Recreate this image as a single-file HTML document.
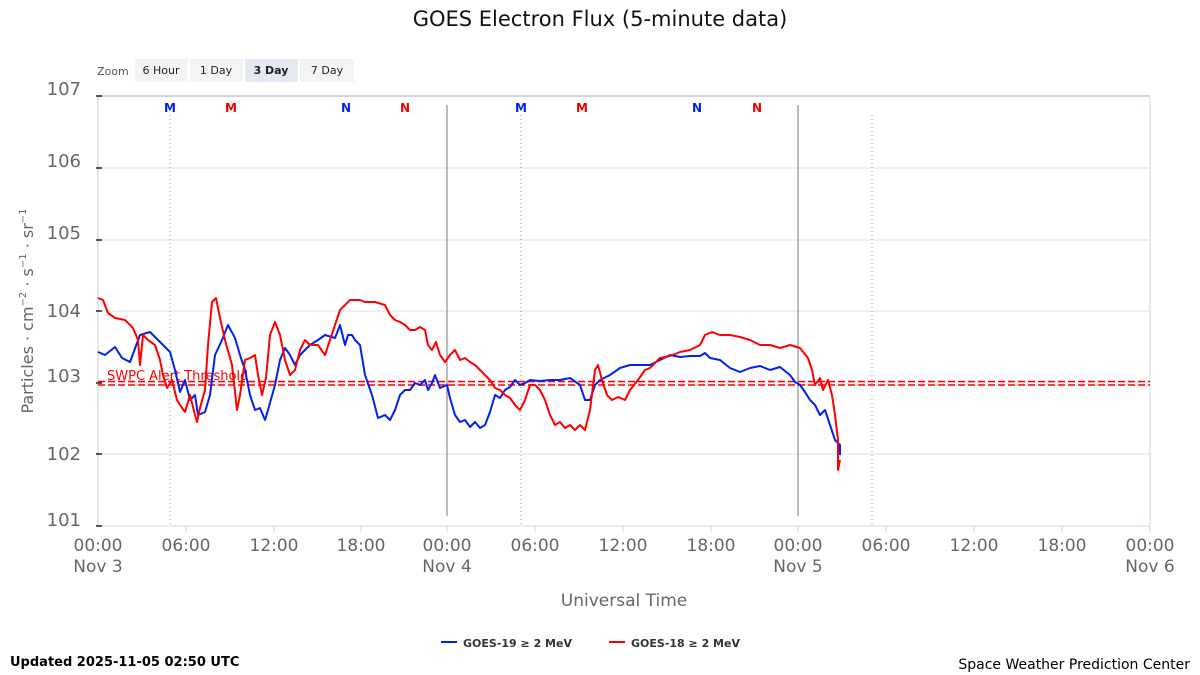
<!DOCTYPE html>
<html><head><meta charset="utf-8"><style>
body{margin:0;background:#fff;}
svg{display:block;font-family:"DejaVu Sans","Liberation Sans",sans-serif;}
</style></head><body>
<svg width="1200" height="675" viewBox="0 0 1200 675">
<text x="600" y="26" text-anchor="middle" font-size="21" fill="#111">GOES Electron Flux (5-minute data)</text>
<text x="97" y="75" font-size="11" fill="#555">Zoom</text>
<rect x="135" y="59" width="53" height="23" fill="#f4f4f4"/><text x="161" y="74" text-anchor="middle" font-size="11" fill="#222">6 Hour</text>
<rect x="190" y="59" width="53" height="23" fill="#f4f4f4"/><text x="216" y="74" text-anchor="middle" font-size="11" fill="#222">1 Day</text>
<rect x="245" y="59" width="53" height="23" fill="#e6e9f2"/><text x="271" y="74" text-anchor="middle" font-size="11" font-weight="bold" fill="#222">3 Day</text>
<rect x="300" y="59" width="54" height="23" fill="#f4f4f4"/><text x="327" y="74" text-anchor="middle" font-size="11" fill="#222">7 Day</text>
<g stroke="#e2e2e2" stroke-width="1">
<line x1="98" y1="168" x2="1150" y2="168"/><line x1="98" y1="240" x2="1150" y2="240"/><line x1="98" y1="311" x2="1150" y2="311"/><line x1="98" y1="383" x2="1150" y2="383"/><line x1="98" y1="454" x2="1150" y2="454"/>
</g>
<rect x="98" y="96" width="1052" height="430" fill="none" stroke="#ccd6eb"/>
<line x1="98" y1="96" x2="1150" y2="96" stroke="#ccd6eb" stroke-width="2"/>
<g stroke="#999" stroke-dasharray="1,3"><line x1="170" y1="115" x2="170" y2="526"/><line x1="521" y1="115" x2="521" y2="526"/><line x1="872" y1="115" x2="872" y2="526"/></g>
<g stroke="#777"><line x1="447" y1="105" x2="447" y2="516"/><line x1="798" y1="105" x2="798" y2="516"/></g>
<line x1="98" y1="96" x2="98" y2="526" stroke="#ccc"/>
<g stroke="#222" stroke-width="1.5"><line x1="96" y1="96" x2="102" y2="96"/><line x1="96" y1="168" x2="102" y2="168"/><line x1="96" y1="240" x2="102" y2="240"/><line x1="96" y1="311" x2="102" y2="311"/><line x1="96" y1="383" x2="102" y2="383"/><line x1="96" y1="454" x2="102" y2="454"/><line x1="96" y1="526" x2="102" y2="526"/></g>
<g stroke="#ccd6eb"><line x1="186" y1="526" x2="186" y2="532"/><line x1="274" y1="526" x2="274" y2="532"/><line x1="361" y1="526" x2="361" y2="532"/><line x1="447" y1="526" x2="447" y2="532"/><line x1="535" y1="526" x2="535" y2="532"/><line x1="623" y1="526" x2="623" y2="532"/><line x1="711" y1="526" x2="711" y2="532"/><line x1="798" y1="526" x2="798" y2="532"/><line x1="886" y1="526" x2="886" y2="532"/><line x1="974" y1="526" x2="974" y2="532"/><line x1="1062" y1="526" x2="1062" y2="532"/><line x1="1150" y1="526" x2="1150" y2="532"/></g>
<g font-size="18" fill="#666" text-anchor="end">
<text x="81" y="95">107</text><text x="81" y="167">106</text><text x="81" y="239">105</text><text x="81" y="317">104</text><text x="81" y="382">103</text><text x="81" y="460">102</text><text x="81" y="526">101</text>
</g>
<text transform="translate(33,311) rotate(-90)" text-anchor="middle" font-size="16" fill="#666">Particles · cm<tspan font-size="10" dy="-7">−2</tspan><tspan dy="7"> · s</tspan><tspan font-size="10" dy="-7">−1</tspan><tspan dy="7"> · sr</tspan><tspan font-size="10" dy="-7">−1</tspan></text>
<g font-size="17" fill="#666" text-anchor="middle">
<text x="98" y="551">00:00</text><text x="98" y="572">Nov 3</text>
<text x="186" y="551">06:00</text><text x="274" y="551">12:00</text><text x="361" y="551">18:00</text>
<text x="447" y="551">00:00</text><text x="447" y="572">Nov 4</text>
<text x="535" y="551">06:00</text><text x="623" y="551">12:00</text><text x="711" y="551">18:00</text>
<text x="798" y="551">00:00</text><text x="798" y="572">Nov 5</text>
<text x="886" y="551">06:00</text><text x="974" y="551">12:00</text><text x="1062" y="551">18:00</text>
<text x="1150" y="551">00:00</text><text x="1150" y="572">Nov 6</text>
<text x="624" y="606">Universal Time</text>
</g>
<g font-size="12" font-weight="bold" text-anchor="middle">
<text x="170" y="112" fill="#0022ee">M</text><text x="231" y="112" fill="#ee0000">M</text><text x="346" y="112" fill="#0022ee">N</text><text x="405" y="112" fill="#ee0000">N</text>
<text x="521" y="112" fill="#0022ee">M</text><text x="582" y="112" fill="#ee0000">M</text><text x="697" y="112" fill="#0022ee">N</text><text x="757" y="112" fill="#ee0000">N</text>
</g>
<g stroke="#ff0000" stroke-width="1.5" stroke-dasharray="7,3"><line x1="98" y1="381.5" x2="1150" y2="381.5"/><line x1="98" y1="385" x2="1150" y2="385"/></g>
<text x="107" y="380" font-size="13" fill="#ff0000">SWPC Alert Threshold</text>
<polyline fill="none" stroke="#0022ee" stroke-width="2" stroke-linejoin="round" points="98,352 105,355 115,347 122,358 130,362 140,335 150,332 160,342 170,352 175,370 180,392 185,380 190,400 195,395 198,415 205,412 210,395 215,355 222,340 228,325 235,338 240,355 245,370 250,395 255,410 260,408 265,420 268,410 275,385 280,360 285,348 290,355 295,365 300,355 310,345 318,340 325,335 335,338 340,325 345,345 348,335 352,335 355,340 360,345 365,375 372,395 378,418 385,415 390,420 395,410 400,395 405,390 410,390 415,383 420,385 425,380 428,390 432,383 435,375 440,388 447,385 450,398 455,415 460,422 465,420 470,427 475,422 480,428 485,425 490,412 495,395 500,398 505,390 510,387 515,380 520,385 525,383 530,380 540,381 550,380 560,380 570,378 580,385 585,400 590,400 595,385 600,380 610,375 620,368 630,365 640,365 650,365 660,360 670,355 680,357 690,356 700,356 705,353 710,358 720,360 730,368 740,372 750,368 760,366 770,370 780,367 790,375 795,382 800,385 805,392 810,400 815,405 820,415 825,410 830,425 835,440 840,445 840,455"/>
<polyline fill="none" stroke="#ff0000" stroke-width="2" stroke-linejoin="round" points="98,298 103,300 108,313 115,318 125,320 133,328 138,340 140,365 143,335 148,340 155,345 160,360 163,375 167,388 172,380 177,400 180,405 185,412 190,395 195,415 197,422 200,408 205,390 208,345 212,302 216,298 220,318 225,340 232,365 237,410 240,395 245,360 250,358 255,355 258,375 262,395 266,378 270,335 275,322 280,335 285,360 290,375 295,370 300,350 305,340 310,345 318,345 325,355 330,340 335,325 340,310 345,305 350,300 360,300 365,302 375,302 385,305 390,315 395,320 400,322 405,325 410,330 415,330 420,327 425,330 428,345 432,350 436,342 440,355 445,362 450,355 455,350 460,360 465,358 470,362 475,365 480,370 485,375 490,380 495,388 500,390 505,395 510,398 515,405 520,410 525,400 530,385 535,385 540,390 545,400 550,415 555,425 560,422 565,428 570,425 575,430 580,425 585,430 590,410 595,370 598,365 602,380 607,395 612,400 618,397 625,400 630,390 638,380 645,370 650,368 660,358 670,356 680,352 690,350 700,345 705,335 712,332 720,335 730,335 740,337 750,340 760,345 770,345 780,348 790,345 800,348 808,358 812,370 815,385 820,378 823,390 828,380 832,395 835,415 838,440 838,470 840,460"/>
<line x1="441" y1="642" x2="457" y2="642" stroke="#0022ee" stroke-width="2"/>
<text x="463" y="647" font-size="11" font-weight="bold" fill="#333">GOES-19 ≥ 2 MeV</text>
<line x1="609" y1="642" x2="625" y2="642" stroke="#ff0000" stroke-width="2"/>
<text x="631" y="647" font-size="11" font-weight="bold" fill="#333">GOES-18 ≥ 2 MeV</text>
<text x="10" y="666" font-size="13" font-weight="bold" fill="#000">Updated 2025-11-05 02:50 UTC</text>
<text x="1190" y="669" font-size="14" text-anchor="end" fill="#000">Space Weather Prediction Center</text>
</svg>
</body></html>
